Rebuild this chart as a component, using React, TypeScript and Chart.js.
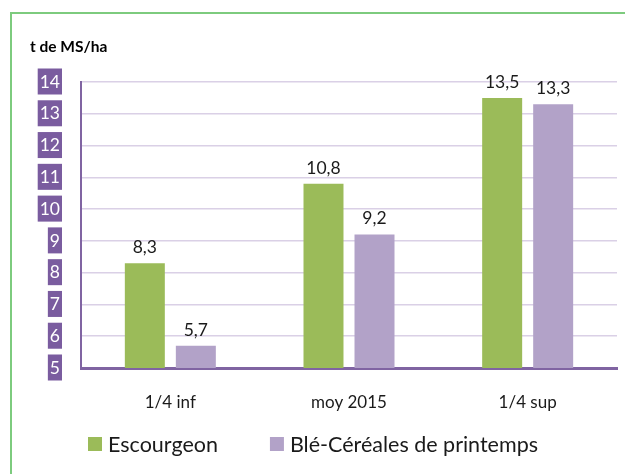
import React, { useEffect, useRef } from "react";
import { Chart, registerables } from "chart.js";

Chart.register(...registerables);

const categories = ["1/4 inf", "moy 2015", "1/4 sup"];
const escourgeon = [8.3, 10.8, 13.5];
const bleCereales = [5.7, 9.2, 13.3];
const seriesNames = ["Escourgeon", "Blé-Céréales de printemps"];
const yMin = 5;
const yMax = 14;
const yStep = 1;
const unitLabel = "t de MS/ha";

const GREEN = "#9BBB59";
const LILAC = "#B2A2C8";
const PURPLE_AXIS = "#8064A2";
const TICK_BOX = "#7A5C9F";
const FONT = "Lato, 'Open Sans', sans-serif";

const fmt = (v: number) => v.toFixed(1).replace(".", ",");

const decorPlugin = {
  id: "decor",
  beforeDraw(chart: any) {
    const ctx = chart.ctx;
    ctx.save();
    ctx.fillStyle = "#ffffff";
    ctx.fillRect(0, 0, chart.width, chart.height);
    ctx.strokeStyle = "#7DCB7E";
    ctx.lineWidth = 2;
    ctx.beginPath();
    ctx.moveTo(11, chart.height);
    ctx.lineTo(11, 13);
    ctx.lineTo(chart.width, 13);
    ctx.stroke();
    ctx.restore();
  },
  afterDatasetsDraw(chart: any) {
    const ctx = chart.ctx;
    ctx.save();
    ctx.fillStyle = "#1a1a1a";
    ctx.font = `17.5px ${FONT}`;
    ctx.textAlign = "center";
    ctx.textBaseline = "bottom";
    chart.data.datasets.forEach((ds: any, i: number) => {
      const meta = chart.getDatasetMeta(i);
      meta.data.forEach((bar: any, j: number) => {
        ctx.fillText(fmt(ds.data[j]), bar.x, bar.y - 7);
      });
    });
    // unit label
    ctx.font = `bold 15.5px ${FONT}`;
    ctx.textAlign = "left";
    ctx.textBaseline = "middle";
    ctx.fillStyle = "#000";
    ctx.fillText(unitLabel, 30, 47);
    // legend
    ctx.font = `21.5px ${FONT}`;
    let x = 88;
    const y = 444;
    chart.data.datasets.forEach((ds: any) => {
      ctx.fillStyle = ds.backgroundColor;
      ctx.fillRect(x, y - 7, 14, 14);
      ctx.fillStyle = "#1a1a1a";
      ctx.fillText(ds.label, x + 20, y + 1);
      x += 20 + ctx.measureText(ds.label).width + 52;
    });
    ctx.restore();
  },
};

export default function App() {
  const ref = useRef<HTMLCanvasElement | null>(null);
  useEffect(() => {
    if (!ref.current) return;
    const chart = new Chart(ref.current, {
      type: "bar",
      data: {
        labels: categories,
        datasets: [
          { label: seriesNames[0], data: escourgeon, backgroundColor: GREEN },
          { label: seriesNames[1], data: bleCereales, backgroundColor: LILAC },
        ],
      },
      options: {
        animation: false,
        responsive: false,
        maintainAspectRatio: false,
        layout: { padding: { left: 0, top: 82, right: 8, bottom: 0 } },
        datasets: { bar: { categoryPercentage: 0.571, barPercentage: 0.784 } },
        plugins: { legend: { display: false }, tooltip: { enabled: false }, title: { display: false } },
        scales: {
          x: {
            grid: { display: false, drawTicks: false },
            border: { display: true, color: PURPLE_AXIS, width: 3 },
            ticks: { color: "#1a1a1a", font: { family: FONT, size: 17 }, padding: 24 },
            afterFit: (s: any) => { s.height = 106; },
          },
          y: {
            min: yMin,
            max: yMax,
            grid: { color: "#DAD0E6", lineWidth: 1.5, drawTicks: false },
            border: { display: true, color: PURPLE_AXIS, width: 2 },
            ticks: {
              stepSize: yStep,
              color: "#ffffff",
              font: { family: FONT, size: 17.5 },
              padding: 21,
              showLabelBackdrop: true,
              backdropColor: TICK_BOX,
              backdropPadding: { top: 3, bottom: 2, left: 2, right: 2 },
            },
            afterFit: (s: any) => { s.width = 81; },
          },
        },
      },
      plugins: [decorPlugin],
    } as any);
    return () => chart.destroy();
  }, []);
  return (
    <div style={{ position: "absolute", left: 0, top: 0, width: 625, height: 474 }}>
      <canvas ref={ref} width={625} height={474} style={{ width: 625, height: 474 }} />
    </div>
  );
}
